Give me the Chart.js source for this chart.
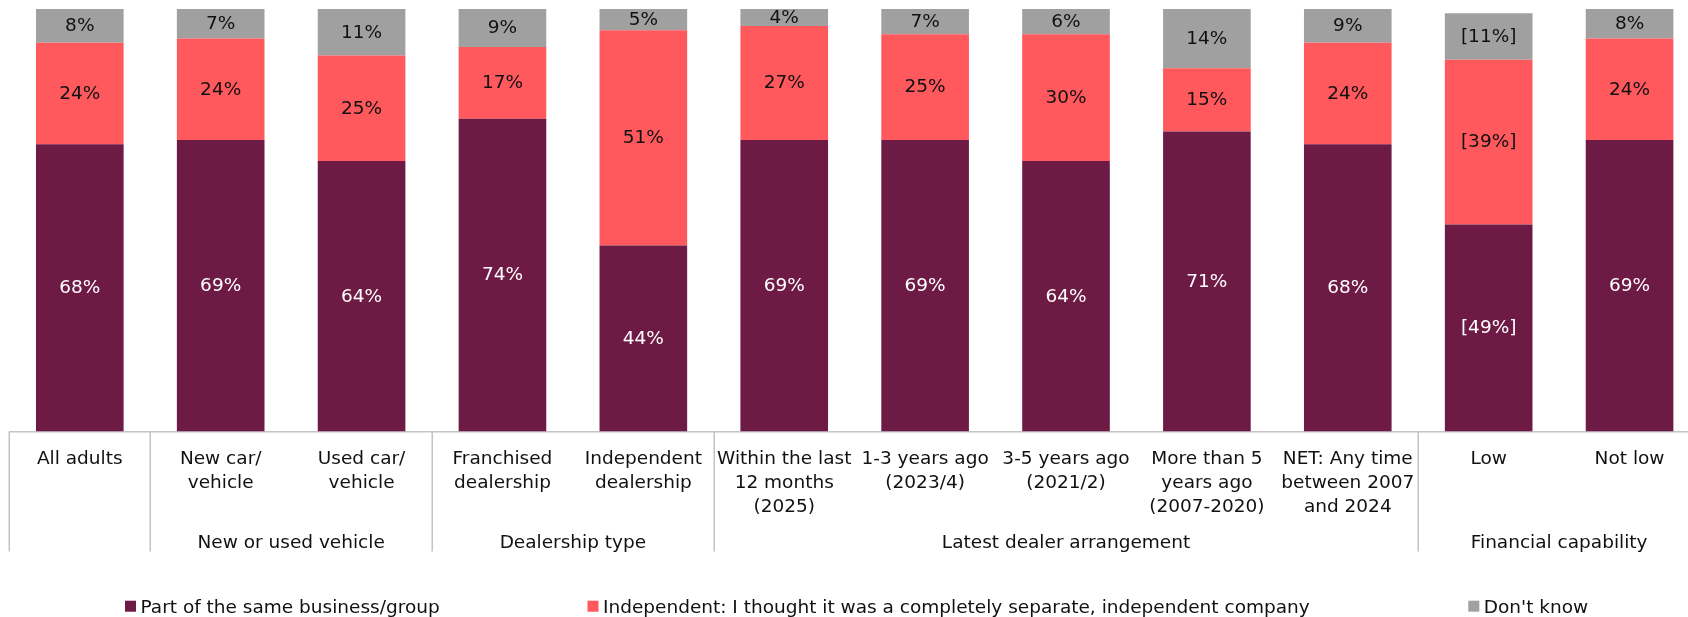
<!DOCTYPE html>
<html>
<head>
<meta charset="utf-8">
<script src="https://cdn.jsdelivr.net/npm/chart.js@4.4.1/dist/chart.umd.min.js"></script>
<style>
  html, body { margin: 0; padding: 0; background: #ffffff; overflow: hidden; }
  #wrap { position: relative; width: 1700px; height: 617px; }
</style>
</head>
<body>
<div id="wrap"><canvas id="chart"></canvas></div>
<script>
// Category labels (one entry per bar, split into lines)
const categories = [
  ['All adults'],
  ['New car/', 'vehicle'],
  ['Used car/', 'vehicle'],
  ['Franchised', 'dealership'],
  ['Independent', 'dealership'],
  ['Within the last', '12 months', '(2025)'],
  ['1-3 years ago', '(2023/4)'],
  ['3-5 years ago', '(2021/2)'],
  ['More than 5', 'years ago', '(2007-2020)'],
  ['NET: Any time', 'between 2007', 'and 2024'],
  ['Low'],
  ['Not low']
];

// Series values (%)
const sameBusiness = [68, 69, 64, 74, 44, 69, 69, 64, 71, 68, 49, 69];
const independentCo = [24, 24, 25, 17, 51, 27, 25, 30, 15, 24, 39, 24];
const dontKnow      = [8, 7, 11, 9, 5, 4, 7, 6, 14, 9, 11, 8];

// Low base sizes are shown in square brackets
const lowBase = [false, false, false, false, false, false, false, false, false, false, true, false];

const seriesNames = [
  'Part of the same business/group',
  'Independent: I thought it was a completely separate, independent company',
  "Don't know"
];

// Category groups shown beneath the axis
const groupNames = ['', 'New or used vehicle', 'Dealership type', 'Latest dealer arrangement', 'Financial capability'];
const groupStart = [0, 1, 3, 5, 10];
const groupEnd   = [0, 2, 4, 9, 11];

const COLORS = ['#6D1B45', '#FF585D', '#A0A0A0'];
const LABEL_COLORS = ['#FFFFFF', '#111111', '#111111'];
const FONT_FAMILY = '"DejaVu Sans", Verdana, sans-serif';
const FONT_SIZE = 18.5;
const TEXT = '#111111';
const RULE = '#C4C4C4';

Chart.defaults.font.family = FONT_FAMILY;
Chart.defaults.font.size = FONT_SIZE;

const seriesData = [sameBusiness, independentCo, dontKnow];

const datasets = seriesData.map((values, k) => ({
  label: seriesNames[k],
  data: values,
  backgroundColor: COLORS[k],
  borderWidth: 0,
  barPercentage: 0.622,
  categoryPercentage: 1.0
}));

// Segment value labels
const valueLabels = {
  id: 'valueLabels',
  afterDatasetsDraw(chart) {
    const { ctx, chartArea } = chart;
    ctx.save();
    ctx.font = FONT_SIZE + 'px ' + FONT_FAMILY;
    ctx.textAlign = 'center';
    ctx.textBaseline = 'middle';
    chart.data.datasets.forEach((ds, di) => {
      const meta = chart.getDatasetMeta(di);
      meta.data.forEach((bar, i) => {
        const top = Math.max(Math.min(bar.y, bar.base), chartArea.top);
        const bottom = Math.min(Math.max(bar.y, bar.base), chartArea.bottom);
        let txt = ds.data[i] + '%';
        if (lowBase[i]) txt = '[' + txt + ']';
        ctx.fillStyle = LABEL_COLORS[di];
        ctx.fillText(txt, bar.x, (top + bottom) / 2 + 0.5);
      });
    });
    ctx.restore();
  }
};

// Category labels, group labels, separators and legend
const axisDecor = {
  id: 'axisDecor',
  afterDraw(chart) {
    const { ctx, chartArea } = chart;
    const xs = chart.scales.x;
    const step = xs.getPixelForValue(1) - xs.getPixelForValue(0);
    const axisY = chartArea.bottom;
    ctx.save();
    ctx.font = FONT_SIZE + 'px ' + FONT_FAMILY;
    ctx.textBaseline = 'middle';
    ctx.textAlign = 'center';
    ctx.fillStyle = TEXT;

    // category labels
    categories.forEach((lines, i) => {
      const x = xs.getPixelForValue(i);
      lines.forEach((line, j) => {
        ctx.fillText(line, x, axisY + 27.5 + j * 24);
      });
    });

    // group separators
    ctx.strokeStyle = RULE;
    ctx.lineWidth = 1.5;
    const bounds = groupStart.concat([categories.length]);
    bounds.forEach(b => {
      const x = Math.round(xs.getPixelForValue(b) - step / 2) + 0.25;
      ctx.beginPath();
      ctx.moveTo(x, axisY);
      ctx.lineTo(x, axisY + 120);
      ctx.stroke();
    });

    // group names
    groupNames.forEach((name, g) => {
      if (!name) return;
      const x = (xs.getPixelForValue(groupStart[g]) + xs.getPixelForValue(groupEnd[g])) / 2;
      ctx.fillText(name, x, axisY + 111.5);
    });

    // legend
    ctx.textAlign = 'left';
    const legendY = 606.2;
    const legendX = [125, 587.5, 1468.3];
    chart.data.datasets.forEach((ds, k) => {
      const lx = legendX[k];
      ctx.fillStyle = ds.backgroundColor;
      ctx.fillRect(lx, 600.7, 11, 11);
      ctx.fillStyle = TEXT;
      ctx.fillText(ds.label, lx + 15.5, legendY + 2);
    });
    ctx.restore();
  }
};

new Chart(document.getElementById('chart'), {
  type: 'bar',
  data: { labels: categories.map(c => c.join(' ')), datasets },
  options: {
    responsive: true,
    maintainAspectRatio: false,
    animation: false,
    layout: { padding: { left: 9.35, right: 0, top: 9, bottom: 0 } },
    plugins: { legend: { display: false }, tooltip: { enabled: false } },
    scales: {
      x: {
        stacked: true,
        grid: { display: false },
        border: { display: true, color: RULE, width: 1.5 },
        ticks: { display: false },
        afterFit(scale) { scale.height = 185.5; }
      },
      y: {
        stacked: true,
        display: false,
        min: 0,
        max: 100
      }
    }
  },
  plugins: [valueLabels, axisDecor]
});
</script>
</body>
</html>
